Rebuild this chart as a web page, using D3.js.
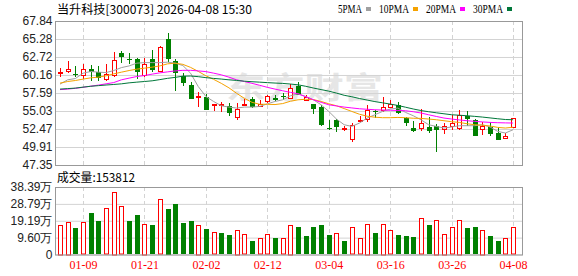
<!DOCTYPE html>
<html>
<head>
<meta charset="utf-8">
<script src="https://cdn.jsdelivr.net/npm/d3@7"></script>
<style>
  body { margin: 0; background: #fff; }
  svg { display: block; }
</style>
</head>
<body>
<div id="vis"></div>
<script>
const width = 578, height = 276;

const title = "当升科技[300073] 2026-04-08 15:30";

const dates = ["01-06","01-07","01-08","01-09","01-12","01-13","01-14","01-15","01-16","01-19",
  "01-20","01-21","01-22","01-23","01-26","01-27","01-28","01-29","01-30","02-02",
  "02-03","02-04","02-05","02-06","02-09","02-10","02-11","02-12","02-13","02-24",
  "02-25","02-26","02-27","03-02","03-03","03-04","03-05","03-06","03-09","03-10",
  "03-11","03-12","03-13","03-16","03-17","03-18","03-19","03-20","03-23","03-24",
  "03-25","03-26","03-27","03-30","03-31","04-01","04-02","04-03","04-07","04-08"];

const open = [60.42,60.79,60.36,60.18,60.99,60.56,59.57,60.18,63.30,62.45,
  62.40,60.22,62.40,60.79,65.24,62.16,60.08,58.76,57.01,57.06,
  55.88,55.88,55.68,54.12,55.96,56.81,55.78,56.39,56.87,57.20,
  56.87,58.66,56.63,56.02,55.59,52.66,53.79,52.57,51.05,53.61,
  53.89,55.07,55.17,55.59,55.88,53.98,52.56,52.56,52.80,52.94,
  52.47,52.84,52.66,54.26,53.79,52.42,52.76,51.90,51.19,52.70];
const high = [61.21,62.12,61.45,61.74,61.55,61.45,61.78,63.40,63.63,63.30,
  62.55,62.63,63.72,64.25,66.18,62.49,60.42,59.18,57.77,57.48,
  56.10,56.25,56.16,56.16,56.73,57.01,56.63,57.34,57.30,57.58,
  58.86,59.14,57.24,56.10,55.88,53.79,53.85,52.84,53.27,54.26,
  55.92,55.21,57.01,56.63,56.35,54.17,53.55,55.31,54.12,53.18,
  53.32,54.50,55.21,55.07,53.85,53.41,53.41,52.76,51.90,54.10];
const low = [59.85,60.50,59.85,59.65,59.28,59.37,59.37,59.94,61.92,61.78,
  59.65,59.94,60.56,60.65,61.98,57.95,58.52,56.70,55.59,55.11,
  54.97,54.93,54.26,53.79,55.78,55.50,55.59,56.16,56.49,56.63,
  56.77,57.30,56.58,54.64,52.94,52.27,51.99,52.23,50.63,53.51,
  53.51,54.03,54.93,55.49,54.64,52.84,51.99,52.23,51.85,49.15,
  51.81,52.37,52.37,52.84,51.42,51.66,51.42,50.85,51.05,52.65];
const close = [60.56,61.03,60.30,60.99,60.60,59.75,60.28,62.26,62.77,62.31,
  60.56,61.78,60.89,64.11,62.49,60.42,59.08,56.77,57.15,55.21,
  56.06,55.96,54.74,55.31,56.06,55.59,56.06,57.15,56.63,56.96,
  58.29,57.34,57.06,55.31,53.08,52.51,52.76,52.66,53.08,53.75,
  55.21,54.97,55.59,55.96,54.74,53.32,52.13,53.37,52.13,52.33,
  52.94,53.37,54.46,53.93,51.42,52.94,51.81,50.95,51.52,54.03];

// 成交量 (手)
const volume = [170600,186000,150000,182000,235000,189600,262000,358000,273000,189600,
  224000,176000,167000,313000,260000,286000,178000,189600,170600,144000,
  127000,121000,110000,142000,114000,76000,91000,114000,93000,91000,
  170600,155500,104000,155500,167000,110000,125000,76000,155500,91000,
  176000,121000,176000,136500,110000,104000,98600,205000,167000,199000,
  119000,155500,199000,150000,155500,142000,104000,76000,91000,153812];

const ma5 = [58.86,59.47,59.65,60.42,60.65,60.56,60.50,60.79,61.21,61.45,
  61.84,61.92,61.92,61.92,61.98,61.84,61.50,60.42,58.52,57.10,
  56.39,55.78,55.59,55.45,55.59,55.59,55.68,56.06,56.39,56.63,
  57.20,57.48,57.10,56.63,55.92,54.97,53.89,53.08,52.84,53.32,
  54.03,54.50,54.97,55.31,55.45,54.83,54.36,53.79,53.08,52.84,
  52.61,52.76,52.94,52.94,52.94,53.08,52.76,52.13,51.90,52.37];
const ma10 = [59.00,59.23,59.37,59.57,59.75,59.85,60.04,60.32,60.56,60.79,
  60.99,61.13,61.27,61.45,61.74,61.84,61.67,61.24,60.67,60.04,
  59.54,58.97,58.33,57.55,56.84,56.27,55.99,55.99,55.95,56.09,
  56.42,56.63,56.70,56.66,56.39,56.06,55.78,55.38,54.97,54.57,
  54.29,54.15,54.08,54.08,54.12,54.08,54.00,53.98,53.89,53.79,
  53.65,53.51,53.41,53.22,53.08,53.01,52.90,52.70,52.61,52.73];
const ma20 = [58.08,58.15,58.26,58.40,58.57,58.72,58.90,59.08,59.47,59.71,
  59.94,60.08,60.28,60.46,60.60,60.74,60.82,60.82,60.74,60.64,
  60.42,60.18,59.85,59.47,59.23,58.97,58.69,58.40,58.15,57.91,
  57.69,57.48,57.06,56.63,56.27,55.92,55.75,55.59,55.47,55.35,
  55.28,55.21,55.17,55.14,55.11,55.07,54.93,54.75,54.50,54.26,
  54.03,53.89,53.76,53.65,53.56,53.48,53.41,53.37,53.34,53.32];
const ma30 = [58.15,58.22,58.29,58.43,58.55,58.64,58.73,58.81,58.90,59.04,
  59.14,59.23,59.33,59.50,59.68,59.82,59.99,60.01,59.92,59.78,
  59.67,59.58,59.47,59.38,59.28,59.20,59.14,59.07,59.01,58.96,
  58.87,58.76,58.55,58.30,58.08,57.86,57.58,57.27,57.06,56.81,
  56.59,56.37,56.20,56.02,55.82,55.57,55.32,55.10,54.93,54.78,
  54.64,54.50,54.43,54.36,54.27,54.17,54.05,53.93,53.82,53.79];

const priceTicks = [67.84, 65.28, 62.72, 60.16, 57.59, 55.03, 52.47, 49.91, 47.35];
const volTicks = [383900, 287900, 191900, 96000, 0];
const dateTicks = ["01-09","01-21","02-02","02-12","03-04","03-16","03-26","04-08"];

const maNames = ["5PMA", "10PMA", "20PMA", "30PMA"];
const maColors = ["#a0a0a0", "#f5a200", "#ff00ff", "#00773a"];
const maSeries = [ma5, ma10, ma20, ma30];

const upColor = "#ff0000", downColor = "#008000";
const gridColor = "#d3d3d3", borderColor = "#999";

const main = { left: 55.5, right: 522.5, top: 21, bottom: 165 };
const vol = { top: 187, bottom: 254.5 };

const svg = d3.select("#vis")
  .append("svg")
  .attr("width", width)
  .attr("height", height)
  .style("font-family", "'Liberation Sans', Arial, sans-serif");

const x = d3.scalePoint().domain(dates).range([60, 513.1]);
const y = d3.scaleLinear().domain([47.35, 67.84]).range([main.bottom, main.top]);
const yv = d3.scaleLinear().domain([0, 383900]).range([vol.bottom, vol.top]);
const px = d => Math.round(x(d));

// title and legend
svg.append("text")
  .attr("x", 57).attr("y", 14)
  .attr("textLength", 195).attr("lengthAdjust", "spacingAndGlyphs")
  .style("font-family", "'Noto Sans CJK SC', sans-serif")
  .style("font-size", "12px")
  .text(title);

let lx = 338;
maNames.forEach((name, i) => {
  const tw = name.length * 6;
  svg.append("text")
    .attr("x", lx).attr("y", 13)
    .attr("textLength", tw).attr("lengthAdjust", "spacingAndGlyphs")
    .style("font-family", "'Liberation Serif', serif")
    .style("font-size", "12px")
    .text(name);
  svg.append("rect")
    .attr("x", lx + tw + 4).attr("y", 7)
    .attr("width", 5).attr("height", 4)
    .attr("fill", maColors[i]);
  lx += tw + 4 + 5 + 8;
});

// watermark
svg.append("text")
  .attr("x", 226).attr("y", 98)
  .attr("textLength", 157).attr("lengthAdjust", "spacingAndGlyphs")
  .style("font-family", "'Noto Sans CJK SC', sans-serif")
  .style("font-size", "30px")
  .style("font-weight", "bold")
  .attr("fill", "#e6e6e6")
  .text("东方财富");

// price grid + labels
const yAxis = svg.append("g")
  .attr("transform", `translate(${main.left},0)`)
  .call(d3.axisLeft(y).tickValues(priceTicks)
    .tickSize(-(main.right - main.left)).tickPadding(3)
    .tickFormat(d3.format(".2f")));
yAxis.select(".domain").remove();
yAxis.selectAll("line").attr("stroke", gridColor);
yAxis.selectAll("text").attr("fill", "#222").style("font-size", "12px");

// volume grid + labels
const vAxis = svg.append("g")
  .attr("transform", `translate(${main.left},0)`)
  .call(d3.axisLeft(yv).tickValues(volTicks)
    .tickSize(-(main.right - main.left)).tickPadding(3)
    .tickFormat(d => d === 0 ? "0" : d3.format(".2f")(d / 10000) + "万"));
vAxis.select(".domain").remove();
vAxis.selectAll("line").attr("stroke", gridColor);
vAxis.selectAll("text").attr("fill", "#222").style("font-size", "12px");

// vertical dashed date lines
[[main.top, main.bottom], [vol.top, vol.bottom]].forEach(([t, b]) => {
  svg.append("g").selectAll("line")
    .data(dateTicks)
    .join("line")
    .attr("x1", d => px(d) + 0.5).attr("x2", d => px(d) + 0.5)
    .attr("y1", t).attr("y2", b)
    .attr("stroke", gridColor)
    .attr("stroke-dasharray", "4,3");
});

const xAxis = svg.append("g")
  .attr("transform", `translate(0,${vol.bottom})`)
  .call(d3.axisBottom(x).tickValues(dateTicks).tickSize(0).tickPadding(6));
xAxis.select(".domain").remove();
xAxis.selectAll("text")
  .attr("fill", upColor)
  .style("font-family", "'Liberation Serif', serif")
  .style("font-size", "12px");

// candles
const idx = d3.range(dates.length);
const candles = svg.append("g").selectAll("g").data(idx).join("g");

candles.append("line")
  .attr("x1", i => px(dates[i]) + 0.5).attr("x2", i => px(dates[i]) + 0.5)
  .attr("y1", i => Math.round(y(high[i]))).attr("y2", i => Math.round(y(low[i])))
  .attr("stroke", i => close[i] >= open[i] ? upColor : downColor);

candles.append("rect")
  .attr("x", i => close[i] >= open[i] ? px(dates[i]) - 1.5 : px(dates[i]) - 2)
  .attr("y", i => {
    const t = Math.round(y(Math.max(open[i], close[i])));
    return close[i] >= open[i] ? t + 0.5 : t;
  })
  .attr("width", i => close[i] >= open[i] ? 4 : 5)
  .attr("height", i => {
    const h = Math.round(y(Math.min(open[i], close[i]))) - Math.round(y(Math.max(open[i], close[i])));
    return close[i] >= open[i] ? Math.max(h, 1) : Math.max(h, 1);
  })
  .attr("fill", i => close[i] >= open[i] ? "#fff" : downColor)
  .attr("stroke", i => close[i] >= open[i] ? upColor : "none");

// moving averages
maSeries.forEach((s, k) => {
  svg.append("path")
    .datum(s)
    .attr("fill", "none")
    .attr("stroke", maColors[k])
    .attr("stroke-width", 1)
    .attr("d", d3.line().x((d, i) => x(dates[i])).y(d => y(d)));
});

// volume bars, coloured by change against previous close
const volUp = i => i === 0 ? close[i] >= open[i] : close[i] >= close[i - 1];
svg.append("g").selectAll("rect")
  .data(idx)
  .join("rect")
  .attr("x", i => volUp(i) ? px(dates[i]) - 1.5 : px(dates[i]) - 2)
  .attr("y", i => Math.round(yv(volume[i])) + (volUp(i) ? 0.5 : 0))
  .attr("width", i => volUp(i) ? 4 : 5)
  .attr("height", i => Math.round(vol.bottom - yv(volume[i])) - (volUp(i) ? 0.5 : 0))
  .attr("fill", i => volUp(i) ? "#fff" : downColor)
  .attr("stroke", i => volUp(i) ? upColor : "none");

// borders
svg.append("rect")
  .attr("x", main.left).attr("y", main.top + 0.5)
  .attr("width", main.right - main.left).attr("height", main.bottom - main.top)
  .attr("fill", "none").attr("stroke", borderColor);
svg.append("rect")
  .attr("x", main.left).attr("y", vol.top + 0.5)
  .attr("width", main.right - main.left).attr("height", vol.bottom - vol.top)
  .attr("fill", "none").attr("stroke", borderColor);

svg.append("text")
  .attr("x", 57).attr("y", 182)
  .attr("textLength", 78).attr("lengthAdjust", "spacingAndGlyphs")
  .style("font-family", "'Noto Sans CJK SC', sans-serif")
  .style("font-size", "12px")
  .text(`成交量:${volume[volume.length - 1]}`);
</script>
</body>
</html>
